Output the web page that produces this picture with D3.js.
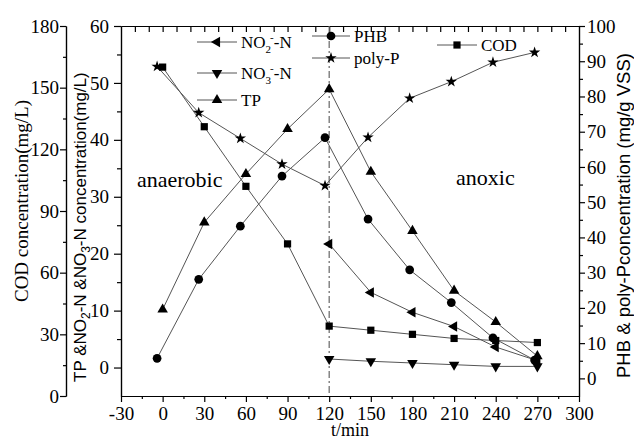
<!DOCTYPE html>
<html>
<head>
<meta charset="utf-8">
<script src="https://cdn.jsdelivr.net/npm/d3@7"></script>
<style>
  body { margin: 0; background: #fff; }
</style>
</head>
<body>
<svg id="chart" width="634" height="441"></svg>
<script>
// sampling times (min)
const times = [0, 30, 60, 90, 120, 150, 180, 210, 240, 270]
const timesAnoxic = [120, 150, 180, 210, 240, 270]
const timesBio = [-4, 26, 56, 86, 117, 148, 178, 208, 238, 268]

// COD (mg/L), left outer axis
const codValues = [160, 131, 102, 74, 34, 32, 30, 28, 27, 26]
// TP, NO2-N, NO3-N (mg/L), left inner axis
const tpValues = [10.2, 25.5, 34, 41.9, 48.9, 34.4, 24, 13.5, 8, 2]
const no2Values = [21.7, 13.2, 9.7, 7.2, 3.6, 1.2]
const no3Values = [1.5, 1.1, 0.8, 0.5, 0.2, 0.2]
// PHB and poly-P (mg/g VSS), right axis
const phbValues = [5.7, 28.1, 43.2, 57.4, 68.3, 45.2, 30.8, 21.5, 11.5, 5.2]
const polyPValues = [88.5, 75.4, 68.1, 60.8, 54.7, 68.4, 79.5, 84.2, 89.7, 92.5]

// tick labels
const xTicks = d3.range(-30, 301, 30)
const codTicks = d3.range(0, 181, 30)
const nTicks = d3.range(0, 61, 10)
const bioTicks = d3.range(0, 101, 10)

const serif = '"Liberation Serif", "Times New Roman", serif'
const sans = '"Liberation Sans", Arial, sans-serif'

const frame = { left: 121, right: 579, top: 26, bottom: 396 }
const codAxisX = 66

const svg = d3.select('#chart')
svg.append('rect').attr('width', 634).attr('height', 441).attr('fill', '#fff')

const x = d3.scaleLinear().domain([-30, 300]).range([frame.left, frame.right])
const yCod = d3.scaleLinear().domain([0, 180]).range([frame.bottom, frame.top])
const yN = d3.scaleLinear().domain([-5, 60]).range([frame.bottom, frame.top])
const yBio = d3.scaleLinear().domain([-5, 100]).range([frame.bottom, frame.top])

const plainNumber = d => String(d)

function styleAxis (g, fontSize) {
  g.attr('font-family', serif).attr('font-size', fontSize || 19)
  g.select('.domain').attr('stroke', '#000').attr('stroke-width', 1.2)
  g.selectAll('.tick line').attr('stroke', '#000').attr('stroke-width', 1.2)
  g.selectAll('.tick text').attr('fill', '#000')
}

function minorTicks (start, stop, step, skip) {
  return d3.range(start, stop + 0.001, step).filter(v => !skip.includes(v))
}

// bottom axis
svg.append('g')
  .attr('transform', `translate(0,${frame.bottom})`)
  .call(d3.axisBottom(x).tickValues(minorTicks(-15, 285, 15, xTicks)).tickSize(3).tickSizeOuter(0).tickFormat(''))
  .call(g => styleAxis(g))
svg.append('g')
  .attr('transform', `translate(0,${frame.bottom})`)
  .call(d3.axisBottom(x).tickValues(xTicks).tickSize(6).tickPadding(5).tickSizeOuter(0).tickFormat(plainNumber))
  .call(g => styleAxis(g))

// top axis, inward ticks
svg.append('g')
  .attr('transform', `translate(0,${frame.top})`)
  .call(d3.axisTop(x).tickValues(d3.range(-20, 300, 10)).tickSize(-6).tickSizeOuter(0).tickFormat(''))
  .call(g => styleAxis(g))

// inner left axis (TP, NO2, NO3)
svg.append('g')
  .attr('transform', `translate(${frame.left},0)`)
  .call(d3.axisLeft(yN).tickValues(minorTicks(5, 55, 5, nTicks)).tickSize(4).tickSizeOuter(0).tickFormat(''))
  .call(g => styleAxis(g))
svg.append('g')
  .attr('transform', `translate(${frame.left},0)`)
  .call(d3.axisLeft(yN).tickValues(nTicks).tickSize(7).tickPadding(5).tickSizeOuter(0).tickFormat(plainNumber))
  .call(g => styleAxis(g))

// outer left axis (COD)
svg.append('g')
  .attr('transform', `translate(${codAxisX},0)`)
  .call(d3.axisLeft(yCod).tickValues(minorTicks(15, 165, 15, codTicks)).tickSize(3).tickSizeOuter(0).tickFormat(''))
  .call(g => styleAxis(g))
svg.append('g')
  .attr('transform', `translate(${codAxisX},0)`)
  .call(d3.axisLeft(yCod).tickValues(codTicks).tickSize(6).tickPadding(1).tickSizeOuter(0).tickFormat(plainNumber))
  .call(g => styleAxis(g))

// right axis (PHB, poly-P)
svg.append('g')
  .attr('transform', `translate(${frame.right},0)`)
  .call(d3.axisRight(yBio).tickValues(minorTicks(5, 95, 5, bioTicks)).tickSize(4).tickSizeOuter(0).tickFormat(''))
  .call(g => styleAxis(g))
svg.append('g')
  .attr('transform', `translate(${frame.right},0)`)
  .call(d3.axisRight(yBio).tickValues(bioTicks).tickSize(6).tickPadding(2).tickSizeOuter(0).tickFormat(plainNumber))
  .call(g => styleAxis(g))

// phase boundary
svg.append('line')
  .attr('x1', x(120)).attr('x2', x(120))
  .attr('y1', frame.top).attr('y2', frame.bottom)
  .attr('stroke', '#666')
  .attr('stroke-width', 1.2)
  .attr('stroke-dasharray', '7,3,2,3')

const series = [
  { name: 'COD', xs: times, ys: codValues, y: yCod, symbol: d3.symbolSquare, size: 52, rotate: 0 },
  { name: 'TP', xs: times, ys: tpValues, y: yN, symbol: d3.symbolTriangle, size: 48, rotate: 0 },
  { name: 'NO2', xs: timesAnoxic, ys: no2Values, y: yN, symbol: d3.symbolTriangle, size: 48, rotate: -90 },
  { name: 'NO3', xs: timesAnoxic, ys: no3Values, y: yN, symbol: d3.symbolTriangle, size: 48, rotate: 180 },
  { name: 'PHB', xs: timesBio, ys: phbValues, y: yBio, symbol: d3.symbolCircle, size: 60, rotate: 0 },
  { name: 'polyP', xs: timesBio, ys: polyPValues, y: yBio, symbol: d3.symbolStar, size: 40, rotate: 0 }
]

series.forEach(function (s) {
  const pts = s.xs.map((t, i) => [t, s.ys[i]])
  const line = d3.line().x(d => x(d[0])).y(d => s.y(d[1]))
  svg.append('path')
    .datum(pts)
    .attr('fill', 'none')
    .attr('stroke', '#555')
    .attr('stroke-width', 1)
    .attr('d', line)
})

series.forEach(function (s) {
  const pts = s.xs.map((t, i) => [t, s.ys[i]])
  svg.append('g')
    .selectAll('path')
    .data(pts)
    .join('path')
    .attr('d', d3.symbol().type(s.symbol).size(s.size))
    .attr('transform', d => `translate(${x(d[0])},${s.y(d[1])}) rotate(${s.rotate})`)
    .attr('fill', '#000')
})

// legend
const legendItems = [
  { series: 'NO2', x1: 197, x2: 237, y: 42, text: [['NO'], ['2', 'sub'], ['-', 'sup'], ['-N']] },
  { series: 'NO3', x1: 197, x2: 237, y: 73, text: [['NO'], ['3', 'sub'], ['-', 'sup'], ['-N']] },
  { series: 'TP', x1: 197, x2: 237, y: 100, text: [['TP']] },
  { series: 'PHB', x1: 312, x2: 350, y: 36, text: [['PHB']] },
  { series: 'polyP', x1: 312, x2: 350, y: 58, text: [['poly-P']] },
  { series: 'COD', x1: 437, x2: 477, y: 45, text: [['COD']] }
]

legendItems.forEach(function (item) {
  const s = series.find(d => d.name === item.series)
  const g = svg.append('g')
  g.append('line')
    .attr('x1', item.x1).attr('x2', item.x2)
    .attr('y1', item.y).attr('y2', item.y)
    .attr('stroke', '#555').attr('stroke-width', 1)
  g.append('path')
    .attr('d', d3.symbol().type(s.symbol).size(s.size))
    .attr('transform', `translate(${(item.x1 + item.x2) / 2},${item.y}) rotate(${s.rotate})`)
    .attr('fill', '#000')
  const text = g.append('text')
    .attr('x', item.x2 + 4)
    .attr('y', item.y + 6)
    .attr('font-family', serif)
    .attr('font-size', 17)
  item.text.forEach(function (part) {
    const span = text.append('tspan').text(part[0])
    if (part[1] === 'sub') span.attr('font-size', 11).attr('dy', 5)
    else if (part[1] === 'sup') span.attr('font-size', 11).attr('dx', -1).attr('dy', -12)
    else if (span.node().previousSibling) span.attr('dy', 7)
  })
})

// phase labels
svg.append('text').attr('x', 137).attr('y', 187)
  .attr('font-family', serif).attr('font-size', 22).text('anaerobic')
svg.append('text').attr('x', 456).attr('y', 185)
  .attr('font-family', serif).attr('font-size', 22).text('anoxic')

// axis titles
svg.append('text')
  .attr('x', (frame.left + frame.right) / 2).attr('y', 436)
  .attr('text-anchor', 'middle')
  .attr('font-family', serif).attr('font-size', 18)
  .text('t/min')

svg.append('text')
  .attr('transform', 'translate(28,201) rotate(-90)')
  .attr('text-anchor', 'middle')
  .attr('font-family', serif).attr('font-size', 19)
  .text('COD concentration(mg/L)')

const nTitle = svg.append('text')
  .attr('transform', 'translate(86,382) rotate(-90)')
  .attr('font-family', sans).attr('font-size', 17)
const nParts = [['TP &NO'], ['2', 'sub'], ['-N &NO'], ['3', 'sub'], ['-N concentration(mg/L)']]
nParts.forEach(function (part, i) {
  const span = nTitle.append('tspan').text(part[0])
  if (part[1] === 'sub') span.attr('font-size', 12).attr('dy', 4)
  else if (i > 0) span.attr('dy', -4)
})

svg.append('text')
  .attr('transform', 'translate(630,378) rotate(-90)')
  .attr('font-family', sans).attr('font-size', 18.5)
  .text('PHB & poly-Pconcentration (mg/g VSS)')
</script>
</body>
</html>
